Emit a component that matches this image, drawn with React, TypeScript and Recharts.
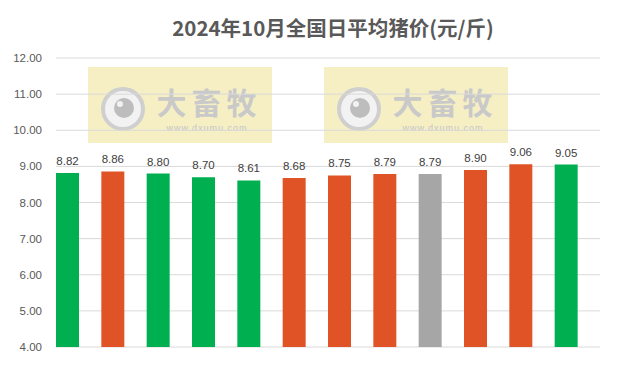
import React from 'react';
import { BarChart, Bar, XAxis, YAxis, CartesianGrid, Cell, LabelList } from 'recharts';

const days = ['1', '2', '3', '4', '5', '6', '7', '8', '9', '10', '11', '12'];
const prices = [8.82, 8.86, 8.8, 8.7, 8.61, 8.68, 8.75, 8.79, 8.79, 8.9, 9.06, 9.05];
const trends = ['down', 'up', 'down', 'down', 'down', 'up', 'up', 'up', 'flat', 'up', 'up', 'down'];
const yTicks = [4, 5, 6, 7, 8, 9, 10, 11, 12];
const title = '2024年10月全国日平均猪价(元/斤)';

const trendColors: Record<string, string> = { down: '#00B050', up: '#E05326', flat: '#A6A6A6' };

const data = days.map((d, i) => ({ day: d, price: prices[i], trend: trends[i], spacer: null }));

const Watermark = ({ x, y }: { x: number; y: number }) => (
  <g transform={`translate(${x},${y})`}>
    <rect x={0} y={0} width={184} height={76} fill="#F6EFC4" />
    <circle cx={35} cy={42} r={20} fill="#F2F2F2" stroke="#CFCFCF" strokeWidth={4} />
    <circle cx={36} cy={41} r={10} fill="#BDBDBD" />
    <circle cx={32} cy={37} r={3} fill="#F2F2F2" />
    <text x={121} y={47} textAnchor="middle" fontSize={30} fontWeight={700} letterSpacing={5}
      fill="#C9C9C9" fontFamily="Noto Sans CJK SC">大畜牧</text>
    <text x={119} y={64} textAnchor="middle" fontSize={9} letterSpacing={1} fill="#C4C4C4"
      fontFamily="Liberation Sans">www.dxumu.com</text>
  </g>
);

export default function App() {
  return (
    <div style={{ position: 'absolute', left: 0, top: 0, width: 631, height: 373, background: '#fff' }}>
      <svg width={631} height={373} style={{ position: 'absolute', left: 0, top: 0 }}>
        <Watermark x={88} y={67} />
        <Watermark x={324} y={67} />
      </svg>
      <div style={{ position: 'absolute', left: 0, top: 0 }}>
        <BarChart width={631} height={373} data={data}
          margin={{ top: 58, right: 31, bottom: 26, left: 0 }}
          barGap={0} barCategoryGap={0}>
          <text x={333} y={27} textAnchor="middle" dominantBaseline="central" fontSize={20.5}
            fontWeight={700} fill="#595959" fontFamily="Noto Sans CJK SC">{title}</text>
          <CartesianGrid vertical={false} stroke="#D9D9D9" />
          <XAxis dataKey="day" hide />
          <YAxis domain={[4, 12]} ticks={yTicks} width={56} axisLine={false} tickLine={false}
            tickMargin={8} interval={0}
            tickFormatter={(v: number) => v.toFixed(2)}
            tick={{ fontSize: 11.5, fill: '#595959', fontFamily: 'Liberation Sans' }} />
          <Bar dataKey="price" isAnimationActive={false}>
            {data.map((d, i) => (
              <Cell key={i} fill={trendColors[d.trend]} />
            ))}
            <LabelList dataKey="price" position="top" offset={8}
              formatter={(v: number) => v.toFixed(2)}
              style={{ fontSize: 11.5, fill: '#404040', fontFamily: 'Liberation Sans' }} />
          </Bar>
          <Bar dataKey="spacer" isAnimationActive={false} fill="transparent" />
        </BarChart>
      </div>
    </div>
  );
}
